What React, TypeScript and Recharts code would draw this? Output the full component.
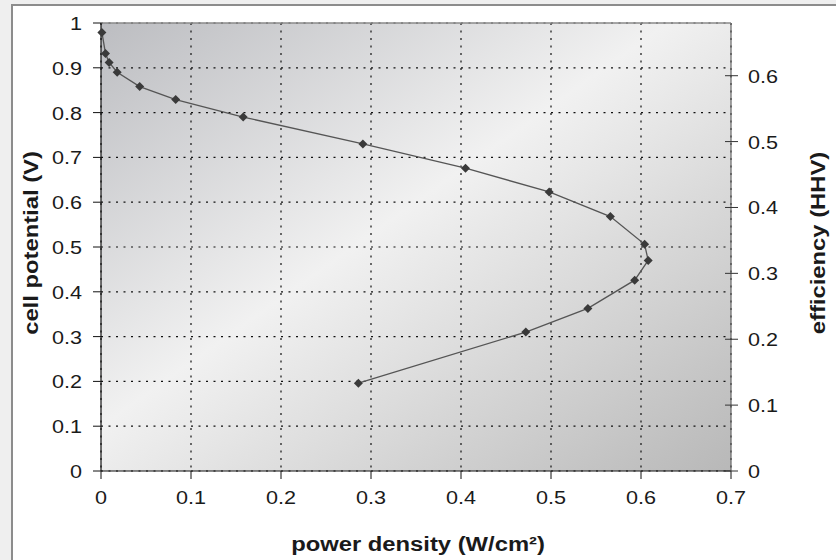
import React from 'react';
import {ScatterChart, Scatter, XAxis, YAxis, CartesianGrid, ReferenceLine} from 'recharts';

// values, in drawing order (the curve folds back)
const powerDensity = [0.001, 0.005, 0.009, 0.018, 0.043, 0.083, 0.158, 0.291, 0.405, 0.498, 0.566, 0.604, 0.608, 0.593, 0.541, 0.472, 0.286];
const cellPotential = [0.979, 0.932, 0.912, 0.89, 0.858, 0.829, 0.79, 0.73, 0.676, 0.623, 0.568, 0.506, 0.47, 0.426, 0.363, 0.31, 0.196];

const xTicks = [0, 0.1, 0.2, 0.3, 0.4, 0.5, 0.6, 0.7];
const potentialTicks = [0, 0.1, 0.2, 0.3, 0.4, 0.5, 0.6, 0.7, 0.8, 0.9, 1];
const efficiencyTicks = [0, 0.1, 0.2, 0.3, 0.4, 0.5, 0.6];
const efficiencyMax = 0.68;

const points = powerDensity.map((p, i) => ({p, v: cellPotential[i]}));

const font = '"Liberation Sans", Arial, Helvetica, sans-serif';
const ink = '#1a1a1a';
// the original lettering is a wide Helvetica, so stretch it along the baseline
const tickScale = 'scale(1.2,1)';
const titleScale = 'scale(1.19,1)';

const fmt = (n: number) => String(n);

const LeftTick = ({x, y, payload}: any) => (
    <text transform={`translate(${x},${y + 7}) ${tickScale}`} textAnchor="end"
          fontFamily={font} fontSize={18} fill={ink}>{fmt(payload.value)}</text>
);

const BottomTick = ({x, y, payload}: any) => (
    <text transform={`translate(${x},${y + 13}) ${tickScale}`} textAnchor="middle"
          fontFamily={font} fontSize={18} fill={ink}>{fmt(payload.value)}</text>
);

// right axis ticks cross the axis line: extra stub on the inside
const RightTick = ({x, y, payload}: any) => (
    <g>
        <line x1={x - 24} x2={x - 18} y1={y} y2={y} stroke="#333"/>
        <text transform={`translate(${x - 1},${y + 7}) ${tickScale}`} textAnchor="start"
              fontFamily={font} fontSize={18} fill={ink}>{fmt(payload.value)}</text>
    </g>
);

const Diamond = (props: any) => {
    const {cx, cy} = props;
    const r = 4.5;
    return <polygon points={`${cx},${cy - r} ${cx + r},${cy} ${cx},${cy + r} ${cx - r},${cy}`} fill="#3a3a3a"/>;
};

const SideLabel = ({viewBox, text, dx}: any) => {
    const x = viewBox.x + dx;
    const y = viewBox.y + viewBox.height / 2 - 4;
    return (
        <text transform={`translate(${x},${y}) rotate(-90) ${titleScale}`} textAnchor="middle"
              dominantBaseline="central" fontFamily={font} fontSize={20} fontWeight="bold" fill={ink}>{text}</text>
    );
};

const BottomLabel = ({viewBox}: any) => (
    <text transform={`translate(${viewBox.x + viewBox.width / 2 + 2},551) ${titleScale}`} textAnchor="middle"
          fontFamily={font} fontSize={20} fontWeight="bold" fill={ink}>power density (W/cm²)</text>
);

const App: React.FC = () => (
    <div style={{position: 'absolute', left: 0, top: 0, width: 836, height: 560, background: '#efefef', overflow: 'hidden'}}>
        <div style={{position: 'absolute', left: 11, top: 4, width: 900, height: 700, background: '#fff',
            borderLeft: '2px solid #8c8c8c', borderTop: '2px solid #8c8c8c'}}/>
        <div style={{position: 'absolute', left: 0, top: 0}}>
            <ScatterChart width={836} height={560} margin={{top: 23, right: 0, bottom: 0, left: 0}}>
                <defs>
                    <linearGradient id="plotBg" x1="0" y1="0" x2="1" y2="1">
                        <stop offset="0" stopColor="#bcbdc1"/>
                        <stop offset="0.45" stopColor="#f1f1f1"/>
                        <stop offset="1" stopColor="#b8b8b8"/>
                    </linearGradient>
                </defs>
                <CartesianGrid fill="url(#plotBg)" fillOpacity={1} stroke="#111" strokeWidth={1.2}
                               strokeDasharray="2 5.5" yAxisId="left"/>
                <XAxis dataKey="p" type="number" domain={[0, 0.7]} ticks={xTicks}
                       height={89} tickSize={8} tickMargin={12} tick={<BottomTick/>}
                       axisLine={{stroke: '#111', strokeWidth: 1.2}} tickLine={{stroke: '#111'}}
                       label={<BottomLabel/>}/>
                <YAxis yAxisId="left" dataKey="v" type="number" domain={[0, 1]} ticks={potentialTicks}
                       width={101} tickSize={8} tickMargin={11} tick={<LeftTick/>}
                       axisLine={{stroke: '#111', strokeWidth: 1.2}} tickLine={{stroke: '#111'}}
                       label={<SideLabel text="cell potential (V)" dx={31}/>}/>
                <YAxis yAxisId="right" orientation="right" type="number" domain={[0, efficiencyMax]}
                       allowDataOverflow ticks={efficiencyTicks} width={105}
                       tickSize={7} tickMargin={11} tick={<RightTick/>}
                       axisLine={{stroke: '#666', strokeWidth: 1.2}} tickLine={{stroke: '#333'}}
                       label={<SideLabel text="efficiency (HHV)" dx={87}/>}/>
                <ReferenceLine yAxisId="left" y={1} stroke="#8a8a8a" strokeWidth={1.5}/>
                <Scatter yAxisId="left" data={points} dataKey="v" shape={Diamond}
                         line={{stroke: '#555', strokeWidth: 1.3}} isAnimationActive={false}/>
            </ScatterChart>
        </div>
    </div>
);

export default App;
